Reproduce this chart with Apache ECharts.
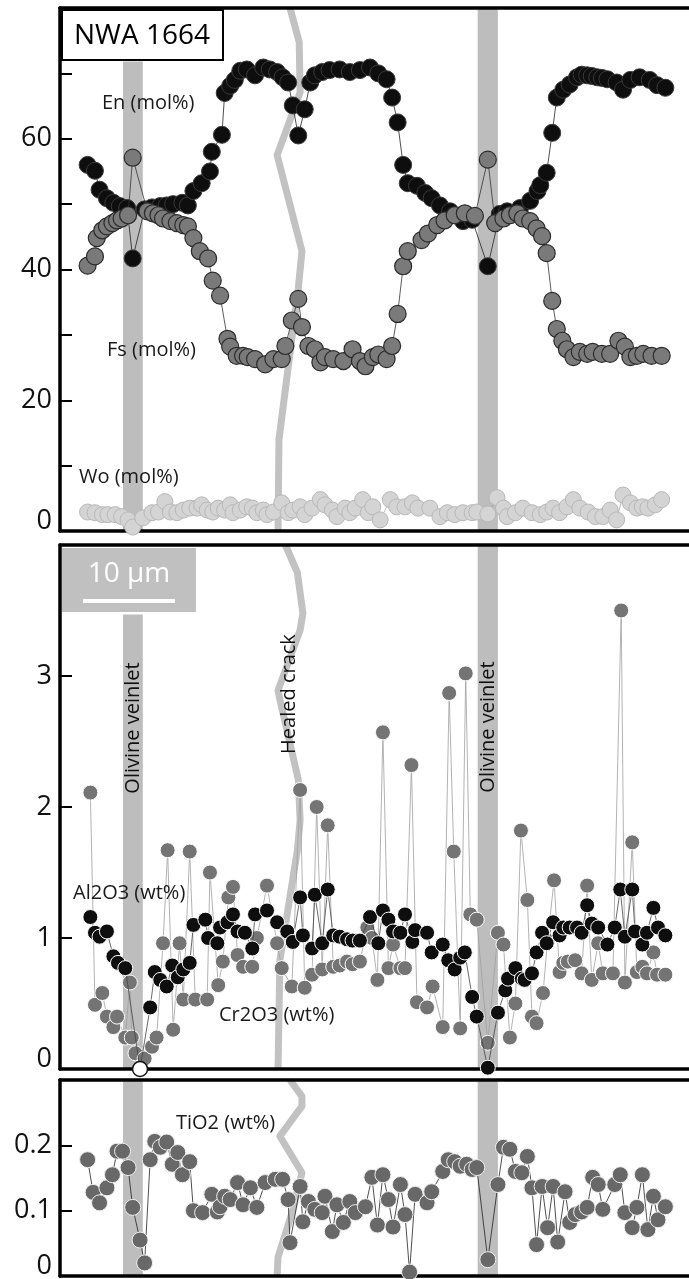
<!DOCTYPE html>
<html><head><meta charset="utf-8">
<script src="https://cdn.jsdelivr.net/npm/echarts@6/dist/echarts.min.js"></script>
<style>html,body{margin:0;padding:0;background:#fff;overflow:hidden}#c{width:689px;height:1279px}</style>
</head><body><div id="c"></div>
<script>
// Distance along traverse (µm), composition values
const EN = [[3.0,56.0],[3.8,55.1],[4.3,52.2],[5.1,50.9],[5.8,50.2],[6.5,49.7],[7.3,49.4],[7.9,41.7],[9.2,49.2],[10.0,49.5],[10.9,49.7],[11.6,49.8],[12.3,50.0],[13.3,50.2],[13.9,49.8],[14.5,52.0],[15.4,53.2],[16.3,55.0],[16.5,58.0],[17.6,60.6],[17.9,67.0],[18.5,68.1],[19.0,69.0],[19.6,70.4],[20.3,70.6],[21.2,69.7],[22.1,70.9],[22.8,70.6],[23.6,70.2],[24.2,69.4],[24.8,68.6],[25.3,65.1],[25.9,60.5],[26.6,64.5],[27.2,68.6],[27.7,69.7],[28.5,70.2],[29.3,70.5],[30.4,70.6],[31.5,70.2],[32.6,70.5],[33.7,70.9],[34.6,70.0],[35.5,69.1],[36.1,66.3],[36.7,62.5],[37.3,56.0],[37.8,53.2],[38.8,52.8],[39.7,51.7],[40.4,50.9],[41.3,49.8],[42.4,48.9],[43.8,47.4],[44.8,47.6],[46.5,40.5],[47.8,48.5],[48.6,48.9],[50.0,49.4],[51.1,50.5],[51.9,52.0],[52.2,52.9],[52.9,54.8],[53.5,60.9],[54.0,66.3],[54.7,67.5],[55.4,68.3],[56.2,69.4],[56.7,69.8],[57.3,69.7],[57.8,69.6],[58.4,69.4],[58.9,69.3],[59.5,69.1],[60.5,68.6],[61.2,67.5],[62.0,69.0],[63.0,69.4],[64.1,69.0],[64.9,68.2],[65.8,67.8]];
const FS = [[3.0,40.6],[3.8,42.0],[4.0,44.8],[4.6,46.0],[5.1,46.6],[5.7,47.1],[6.2,47.5],[6.7,47.8],[7.4,48.3],[7.9,57.1],[9.5,48.9],[10.1,48.6],[10.7,48.3],[11.2,47.8],[12.0,47.4],[12.7,47.1],[13.4,46.8],[13.9,46.6],[14.5,44.8],[15.2,42.8],[16.1,41.7],[16.6,38.3],[17.4,36.0],[18.2,29.4],[18.5,28.2],[19.2,26.8],[19.9,26.8],[20.4,26.6],[21.2,26.3],[22.3,25.5],[23.2,26.3],[24.1,26.3],[24.5,28.3],[25.2,32.2],[25.9,35.5],[26.3,31.2],[27.0,28.3],[27.7,27.8],[28.3,25.8],[28.8,26.6],[29.7,26.3],[30.8,26.0],[31.8,27.8],[32.6,26.0],[33.2,25.2],[34.0,26.6],[34.6,27.0],[35.5,26.3],[36.1,28.3],[36.7,33.2],[37.3,40.5],[37.8,42.8],[39.3,44.5],[40.0,45.5],[41.0,46.8],[41.8,47.5],[42.9,48.3],[44.0,48.6],[45.1,48.2],[46.5,56.8],[47.3,47.1],[48.2,47.8],[48.9,48.3],[49.7,48.6],[50.3,47.8],[51.1,47.4],[51.8,46.3],[52.4,45.1],[52.9,42.5],[53.5,35.2],[54.0,30.9],[54.6,29.1],[55.1,27.8],[55.8,26.6],[56.5,27.4],[57.3,27.1],[57.9,27.4],[58.9,27.1],[59.8,27.1],[60.7,29.1],[61.4,28.2],[62.0,26.6],[62.7,26.8],[63.4,27.1],[64.3,26.8],[65.4,26.8]];
const WO = [[3.0,2.9],[3.8,2.8],[4.6,2.5],[5.2,2.5],[6.0,2.5],[6.7,2.2],[7.4,1.7],[7.9,0.6],[9.0,2.0],[10.0,2.8],[10.7,2.9],[11.4,4.5],[12.0,2.9],[12.7,2.8],[13.4,3.2],[14.1,3.5],[14.9,3.5],[15.4,4.0],[16.0,3.2],[16.6,2.9],[17.2,3.5],[17.9,3.2],[18.5,4.0],[18.8,2.8],[19.6,3.2],[20.3,3.7],[20.9,3.5],[21.4,2.8],[22.1,3.2],[22.5,2.5],[23.2,2.9],[24.1,4.3],[24.8,2.8],[25.3,3.2],[26.1,3.7],[26.6,2.5],[27.4,3.5],[28.3,4.8],[28.8,4.0],[29.6,3.2],[30.1,2.2],[31.0,3.5],[31.5,2.8],[32.1,3.5],[32.9,4.8],[33.5,2.8],[34.0,3.7],[34.8,1.7],[35.9,4.8],[36.6,3.7],[37.5,3.7],[38.3,4.3],[38.9,3.5],[40.2,3.5],[41.3,2.2],[42.1,2.8],[42.9,2.5],[43.8,2.8],[44.8,2.8],[45.3,2.9],[46.5,2.6],[47.5,5.1],[48.2,3.5],[48.6,2.2],[49.5,2.8],[50.3,3.5],[51.3,2.8],[52.2,2.5],[52.9,2.9],[53.6,3.5],[54.3,2.8],[55.1,3.7],[55.8,4.8],[56.5,3.5],[57.4,2.9],[58.2,2.2],[59.0,2.2],[59.8,3.2],[60.5,1.7],[61.2,5.5],[62.0,4.3],[62.7,3.5],[63.3,3.7],[63.9,3.5],[64.7,4.0],[65.4,4.8]];
const AL2O3 = [[3.3,1.16],[3.8,1.04],[4.3,1.01],[5.1,1.05],[5.8,0.86],[6.3,0.81],[7.1,0.77],[8.7,0.0],[9.8,0.47],[10.3,0.74],[10.9,0.68],[11.6,0.63],[12.2,0.79],[12.8,0.70],[13.4,0.76],[14.1,0.81],[14.5,1.10],[15.8,1.14],[16.1,1.00],[17.1,0.96],[17.4,1.08],[18.2,1.12],[18.8,1.18],[19.3,1.05],[20.1,1.04],[20.9,0.92],[21.2,1.18],[22.5,1.21],[23.6,1.12],[24.7,1.05],[25.3,0.97],[26.1,1.31],[26.4,1.02],[27.4,0.92],[27.7,1.33],[28.5,0.96],[29.1,1.37],[29.7,1.02],[30.4,1.01],[31.2,0.99],[31.8,0.98],[32.6,0.98],[33.7,1.16],[34.6,0.96],[35.1,1.21],[35.7,1.14],[36.2,1.05],[37.0,1.04],[37.5,1.18],[38.3,0.97],[38.6,1.06],[39.9,1.04],[40.4,0.89],[41.6,0.95],[42.2,0.83],[42.9,0.76],[43.5,0.85],[44.0,0.89],[44.8,0.55],[45.3,0.40],[46.5,0.01],[47.6,0.43],[48.4,0.60],[48.7,0.69],[49.5,0.77],[50.2,0.69],[50.5,0.68],[51.3,0.73],[51.8,0.89],[52.4,1.04],[52.9,0.96],[53.6,1.12],[54.3,1.02],[54.7,1.08],[55.4,1.08],[56.2,1.08],[56.7,1.04],[57.3,1.25],[57.8,1.11],[58.5,1.08],[59.5,0.95],[60.3,1.08],[60.9,1.37],[61.4,1.01],[62.2,1.37],[62.5,1.05],[63.3,0.95],[63.8,1.04],[64.5,1.23],[65.0,1.08],[65.8,1.02]];
const CR2O3 = [[3.3,2.11],[3.8,0.49],[4.6,0.58],[5.1,0.40],[5.8,0.32],[6.2,0.40],[7.1,0.24],[7.6,0.66],[7.8,0.24],[8.2,0.12],[9.2,0.08],[10.0,0.17],[10.5,0.24],[11.2,0.96],[11.7,1.67],[12.3,0.30],[13.0,0.96],[13.4,0.53],[14.1,1.66],[14.7,0.53],[16.0,0.53],[16.3,1.50],[17.2,0.64],[17.7,0.82],[18.3,1.31],[18.8,1.39],[19.3,0.87],[19.9,0.78],[20.9,0.78],[21.4,1.00],[22.5,1.40],[23.6,0.96],[24.1,0.77],[25.2,0.63],[26.1,2.13],[26.6,0.62],[27.4,0.72],[27.9,2.00],[28.5,0.76],[29.1,1.86],[29.7,0.78],[30.4,0.79],[31.2,0.82],[31.8,0.80],[32.6,0.82],[33.4,1.08],[33.9,1.00],[34.5,0.68],[35.1,2.57],[35.7,0.77],[36.2,0.95],[37.0,0.77],[37.5,0.77],[38.2,2.32],[38.8,0.51],[39.9,0.47],[40.5,0.63],[41.6,0.32],[42.3,2.87],[42.8,1.66],[43.5,0.31],[44.1,3.02],[44.6,1.18],[45.3,1.14],[46.5,0.20],[47.6,1.04],[48.2,0.95],[48.9,0.24],[49.5,0.50],[50.1,1.82],[50.8,1.29],[51.3,0.40],[51.8,0.35],[52.5,0.58],[53.0,0.98],[53.7,1.44],[54.3,0.74],[54.7,0.81],[55.2,0.82],[56.0,0.83],[56.7,0.73],[57.3,1.40],[57.8,0.68],[58.5,0.96],[59.0,0.73],[60.1,0.73],[61.0,3.50],[61.4,0.66],[62.2,1.73],[62.7,0.74],[63.3,0.78],[63.8,0.73],[64.5,0.89],[64.9,0.72],[65.8,0.72]];
const TIO2 = [[3.0,0.178],[3.6,0.128],[4.3,0.112],[5.1,0.135],[5.7,0.155],[6.2,0.191],[6.8,0.191],[7.4,0.166],[7.9,0.105],[8.7,0.055],[9.2,0.020],[9.8,0.178],[10.3,0.206],[10.9,0.197],[11.6,0.205],[12.2,0.171],[12.8,0.189],[13.3,0.155],[14.1,0.175],[14.5,0.100],[15.5,0.097],[16.5,0.125],[17.1,0.098],[17.4,0.106],[17.9,0.122],[18.5,0.117],[19.3,0.143],[19.9,0.109],[20.7,0.135],[21.4,0.105],[22.3,0.143],[23.4,0.148],[24.2,0.148],[24.8,0.117],[25.0,0.051],[26.1,0.137],[26.4,0.083],[27.0,0.114],[27.7,0.102],[28.5,0.097],[28.8,0.122],[29.6,0.068],[30.1,0.109],[30.8,0.082],[31.5,0.114],[32.1,0.097],[33.2,0.106],[33.9,0.151],[34.5,0.078],[35.1,0.155],[35.7,0.117],[36.2,0.075],[37.0,0.140],[37.5,0.094],[38.0,0.006],[38.6,0.125],[39.9,0.112],[40.4,0.129],[41.6,0.160],[42.2,0.178],[42.9,0.175],[43.5,0.168],[44.2,0.171],[44.8,0.163],[45.3,0.166],[46.5,0.025],[47.6,0.140],[48.2,0.197],[48.9,0.194],[49.5,0.160],[50.2,0.158],[50.8,0.183],[51.3,0.135],[51.8,0.048],[52.4,0.137],[53.0,0.074],[53.6,0.137],[54.1,0.052],[54.9,0.129],[55.4,0.082],[56.0,0.094],[56.7,0.098],[57.3,0.105],[57.9,0.151],[58.5,0.140],[59.0,0.102],[60.3,0.140],[60.9,0.155],[61.4,0.097],[62.2,0.074],[62.7,0.105],[63.3,0.155],[63.9,0.071],[64.5,0.122],[65.0,0.086],[65.8,0.106]];
// Olivine veinlet extents (µm)
const VEINLETS = [[6.85, 9.0], [45.4, 47.6]];
// Healed crack trace in each panel: [µm, axis value]
const CRACK_TOP = [[25.0,80],[26.0,74.8],[26.1,67.1],[23.6,57.5],[26.3,42.8],[25.9,37.1],[23.8,14.0],[23.7,0]];
const CRACK_MID = [[24.5,4.0],[25.8,3.79],[26.4,3.48],[26.1,3.35],[23.7,2.89],[23.9,2.82],[25.9,2.21],[26.1,1.90],[25.8,1.67],[23.9,0.83],[23.7,0]];
const CRACK_BOT = [[25.0,0.3],[26.3,0.275],[26.3,0.26],[23.9,0.214],[26.3,0.158],[25.3,0.10],[23.7,0.029],[23.6,0]];
// Axis tick labels
const TOP_LABELS = [0, 20, 40, 60];
const MID_LABELS = [0, 1, 2, 3];
const BOT_LABELS = [0, 0.1, 0.2];

const chart = echarts.init(document.getElementById('c'), null, {renderer: 'canvas'});
const FONT = 'Open Sans';
const GRID_W = 629;            // runs to the right edge; no right frame line
const XMAX = GRID_W / 9.2;     // 9.2 px per µm (10 µm scale bar = 92 px)
const grids = [
  {left: 60, width: GRID_W, top: 8, height: 523},
  {left: 60, width: GRID_W, top: 545, height: 524},
  {left: 60, width: GRID_W, top: 1080, height: 196}
].map(g => Object.assign(g, {show: false, containLabel: false, outerBoundsMode: 'none'}));

const FRAME = {show: true, onZero: false, lineStyle: {color: '#000', width: 3.5}};
const xAxes = [];
[0,1,2].forEach(i => {
  xAxes.push({gridIndex: i, type: 'value', min: 0, max: XMAX, position: 'bottom', z: 3,
    axisLine: FRAME, axisTick: {show: false}, axisLabel: {show: false}, splitLine: {show: false}});
  xAxes.push({gridIndex: i, type: 'value', min: 0, max: XMAX, position: 'top', z: 3,
    axisLine: FRAME, axisTick: {show: false}, axisLabel: {show: false}, splitLine: {show: false}});
});

function yAx(i, max, interval, labels, fmt) {
  return {
    gridIndex: i, type: 'value', min: 0, max: max, interval: interval, position: 'left',
    axisLine: FRAME, splitLine: {show: false},
    axisTick: {show: true, inside: true, length: 12, lineStyle: {color: '#000', width: 2}},
    axisLabel: {
      margin: 8, color: '#111', fontFamily: FONT, fontSize: 27,
      formatter: v => {
        const hit = labels.find(l => Math.abs(l - v) < 1e-6);
        if (hit === undefined) return '';
        if (hit === 0) return '{z|0}';
        return fmt(hit);
      },
      rich: {z: {fontFamily: FONT, fontSize: 27, color: '#111', padding: [0, 0, 20, 0]}}
    },
    z: 3
  };
}
const yAxes = [
  yAx(0, 80, 10, TOP_LABELS, v => String(v)),
  yAx(1, 4, 1, MID_LABELS, v => String(v)),
  yAx(2, 0.3, 0.1, BOT_LABELS, v => v.toFixed(1))
];

const BAND = '#bdbdbd';
function crack(i, data, bandTops) {
  return {
    type: 'line', xAxisIndex: 2 * i, yAxisIndex: i, data: data, symbol: 'none', z: 1,
    lineStyle: {color: '#c2c2c2', width: 7, join: 'round'}, silent: true,
    markArea: {silent: true, itemStyle: {color: BAND},
      data: VEINLETS.map((v, k) => [{xAxis: v[0], yAxis: 0}, {xAxis: v[1], yAxis: bandTops[k]}])}
  };
}
function pts(i, data, size, fill, border, bw, lineColor, lw, z) {
  return {
    type: 'line', xAxisIndex: 2 * i, yAxisIndex: i, data: data, z: z,
    symbol: 'circle', symbolSize: size, showSymbol: true, showAllSymbol: true,
    lineStyle: {color: lineColor, width: lw},
    itemStyle: {color: fill, borderColor: border, borderWidth: bw},
    animation: false
  };
}

// the Al2O3 point at zero inside the first veinlet is drawn as an open circle
const alData = AL2O3.map(p => p[1] === 0 ? {value: p, itemStyle: {color: '#ffffff', borderColor: '#111', borderWidth: 1.5}} : p);

const series = [
  crack(0, CRACK_TOP, [71.8, 80]),
  crack(1, CRACK_MID, [3.47, 4]),
  crack(2, CRACK_BOT, [0.3, 0.3]),
  pts(0, WO, 16, '#d4d4d4', '#b8b8b8', 1, '#9a9a9a', 0.7, 5),
  pts(0, EN, 17, '#0e0e0e', '#3a3a3a', 1, '#222', 0.8, 6),
  pts(0, FS, 17, '#7a7a7a', '#2b2b2b', 1.2, '#333', 0.8, 7),
  pts(1, CR2O3, 15, '#747474', '#ffffff', 1, '#a0a0a0', 0.8, 6),
  pts(1, alData, 15, '#0e0e0e', '#ffffff', 1, '#444', 0.8, 7),
  pts(2, TIO2, 16, '#686868', '#f0f0f0', 1, '#222', 0.8, 6)
];

const txt = (x, y, t, size) => ({
  type: 'text', x: x, y: y, z: 20,
  style: {text: t, fill: '#1a1a1a', font: size + 'px "' + FONT + '"', align: 'left', verticalAlign: 'middle'}
});

const graphic = [
  {type: 'rect', shape: {x: 62, y: 10, width: 161, height: 50}, style: {fill: '#fff', stroke: '#000', lineWidth: 2}, z: 20},
  {type: 'text', x: 142, y: 36, z: 21, style: {text: 'NWA 1664', fill: '#000', font: '28px "' + FONT + '"', align: 'center', verticalAlign: 'middle'}},
  {type: 'rect', shape: {x: 62, y: 548, width: 134, height: 64}, style: {fill: '#c0c0c0'}, z: 20},
  {type: 'text', x: 129, y: 574, z: 21, style: {text: '10 µm', fill: '#fff', font: '28px "' + FONT + '"', align: 'center', verticalAlign: 'middle'}},
  {type: 'rect', shape: {x: 83, y: 599, width: 92, height: 4}, style: {fill: '#fff'}, z: 21},
  txt(102, 103, 'En (mol%)', 20),
  txt(107, 350, 'Fs (mol%)', 20),
  txt(79, 477, 'Wo (mol%)', 20),
  txt(73, 893, 'Al2O3 (wt%)', 20),
  txt(219, 1015, 'Cr2O3 (wt%)', 20),
  txt(176, 1123, 'TiO2 (wt%)', 20),
  {type: 'text', x: 133, y: 728, rotation: Math.PI / 2, z: 21, style: {text: 'Olivine veinlet', fill: '#111', font: '20px "' + FONT + '"', align: 'center', verticalAlign: 'middle'}},
  {type: 'text', x: 488, y: 727, rotation: Math.PI / 2, z: 21, style: {text: 'Olivine veinlet', fill: '#111', font: '20px "' + FONT + '"', align: 'center', verticalAlign: 'middle'}},
  {type: 'text', x: 289, y: 694, rotation: Math.PI / 2, z: 21, style: {text: 'Healed crack', fill: '#111', font: '20px "' + FONT + '"', align: 'center', verticalAlign: 'middle'}}
];

chart.setOption({
  animation: false,
  backgroundColor: '#fff',
  grid: grids, xAxis: xAxes, yAxis: yAxes, series: series, graphic: graphic
});
</script></body></html>
